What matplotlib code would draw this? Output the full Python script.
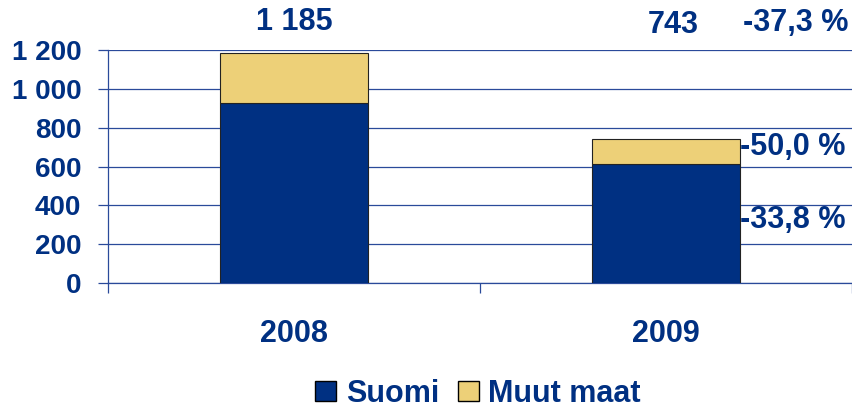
import matplotlib.pyplot as plt
from matplotlib.patches import Patch

# data
years = ["2008", "2009"]
suomi = [929, 615]
muut_maat = [256, 128]
totals = ["1 185", "743"]
change_total = "-37,3 %"
change_muut = "-50,0 %"
change_suomi = "-33,8 %"
yticks = [0, 200, 400, 600, 800, 1000, 1200]
ytick_labels = ["0", "200", "400", "600", "800", "1 000", "1 200"]

navy = "#003082"
yellow = "#EDD078"
grid_col = "#2a4a9a"

plt.rcParams["font.family"] = ["Liberation Sans", "DejaVu Sans"]
plt.rcParams["font.weight"] = "bold"

fig = plt.figure(figsize=(8.52, 4.11), dpi=100)
ax = fig.add_axes([108 / 852, 128 / 411, 744 / 852, 233 / 411])

x = list(range(len(years)))
ax.bar(x, suomi, width=0.4, color=navy, edgecolor="#222222", linewidth=0.8, zorder=3)
ax.bar(x, muut_maat, width=0.4, bottom=suomi, color=yellow,
       edgecolor="#222222", linewidth=0.8, zorder=3)

ax.set_xlim(-0.5, 1.5)
ax.set_ylim(0, 1200)
ax.set_yticks(yticks)
ax.set_yticklabels(ytick_labels)
ax.yaxis.grid(True, color=grid_col, linewidth=0.9, zorder=0)

ax.set_xticks(x)
ax.set_xticklabels(years)
ax.set_xticks([-0.5, 0.5, 1.5], minor=True)
ax.tick_params(axis="x", which="major", length=0, pad=26,
               labelsize=22, labelcolor=navy)
ax.tick_params(axis="x", which="minor", length=7.2, color=grid_col, width=0.9)
ax.tick_params(axis="y", length=7.2, color=grid_col, width=0.9,
               labelsize=20, labelcolor=navy, pad=12)

for side in ["top", "right"]:
    ax.spines[side].set_visible(False)
ax.spines["left"].set_color(grid_col)
ax.spines["bottom"].set_color(grid_col)
ax.spines["left"].set_linewidth(0.9)
ax.spines["bottom"].set_linewidth(0.9)

# labels above and beside bars
ax.text(0, 1345, totals[0], ha="center", va="center", fontsize=22,
        color=navy, fontweight="bold", clip_on=False)
ax.text(1.019, 1330, totals[1], ha="center", va="center", fontsize=22,
        color=navy, fontweight="bold", clip_on=False)
ax.text(1.49, 1340, change_total, ha="right", va="center", fontsize=22,
        color=navy, fontweight="bold", clip_on=False)
ax.text(1.2, 700, change_muut, ha="left", va="center", fontsize=22,
        color=navy, fontweight="bold")
ax.text(1.2, 322, change_suomi, ha="left", va="center", fontsize=22,
        color=navy, fontweight="bold")

handles = [Patch(facecolor=navy, edgecolor="black", label="Suomi"),
           Patch(facecolor=yellow, edgecolor="black", label="Muut maat")]
fig.legend(handles=handles, loc="center", bbox_to_anchor=(0.561, 0.042),
           ncol=2, frameon=False, fontsize=22, labelcolor=navy,
           handlelength=0.69, handleheight=0.62, handletextpad=0.3,
           columnspacing=0.62, borderpad=0.1)

fig.savefig("out.png", dpi=100)
